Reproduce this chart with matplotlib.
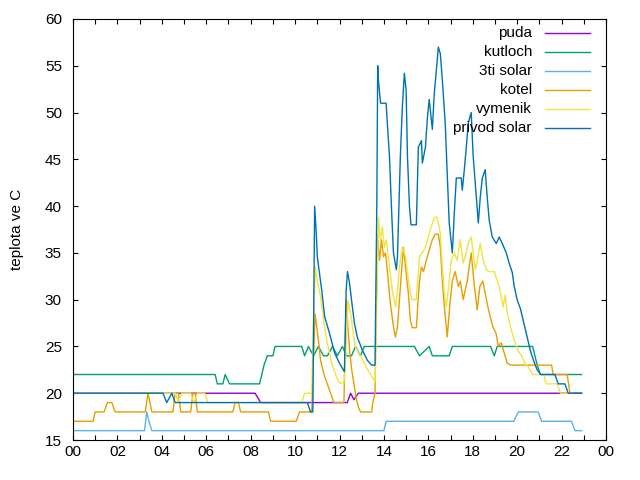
import numpy as np
import matplotlib
matplotlib.use('Agg')
import matplotlib.pyplot as plt

plt.rcParams['font.family'] = ['Liberation Sans', 'DejaVu Sans']
plt.rcParams['font.size'] = 11

# hours of day / temperature (deg C)
puda_t = [0, 8.2, 8.45, 12.35, 12.5, 12.65, 12.85, 22.9]
puda_v = [20, 20, 19, 19, 20, 19.3, 20, 20]

kutloch_t = [0, 6.4, 6.5, 6.75, 6.85, 7.05, 8.4, 8.5, 8.6, 8.75, 9.0, 9.1,
             10.3, 10.43, 10.6, 10.83, 11.05, 11.28, 11.46, 11.69, 11.9, 12.13,
             12.31, 12.54, 12.72, 12.94, 13.12, 15.37, 15.6, 16.04, 16.18,
             16.94, 17.08, 18.8, 18.97, 19.1, 20.7, 20.8, 20.9, 21.05, 22.9]
kutloch_v = [22, 22, 21, 21, 22, 21, 21, 22, 23, 24, 24, 25,
             25, 24, 25, 24, 25, 24, 24, 25, 24, 25,
             24, 24, 25, 24, 25, 25, 24, 25, 24,
             24, 25, 25, 24, 25, 25, 24, 23, 22, 22]

solar3_t = [0, 3.22, 3.32, 3.42, 3.55, 14.0, 14.1, 19.85, 20.05, 20.95,
            21.1, 22.45, 22.6, 22.9]
solar3_v = [16, 16, 18, 17, 16, 16, 17, 17, 18, 18,
            17, 17, 16, 16]

kotel_t = [0, 0.9, 1.0, 1.4, 1.55, 1.75, 1.9, 3.25, 3.38, 3.55,
           4.5, 4.6, 4.75, 4.85, 5.3, 5.4, 5.5, 5.6, 7.2, 7.3, 7.45, 7.55,
           8.8, 8.9, 10.05, 10.2, 10.75, 10.8, 10.9, 10.98, 11.08, 11.15,
           11.3, 11.45, 11.6, 11.75, 12.2, 12.3, 12.38, 12.46, 12.55, 12.65,
           12.75, 12.85, 12.95, 13.45, 13.5, 13.6, 13.7,
           13.8, 13.89, 13.98, 14.07, 14.16, 14.29, 14.43, 14.52, 14.61, 14.7,
           14.79, 14.88, 14.97, 15.1, 15.19, 15.28, 15.46, 15.6, 15.69, 15.78,
           15.91, 16.04, 16.18, 16.31, 16.45, 16.54, 16.63, 16.72, 16.81,
           16.85, 16.99, 17.08, 17.21, 17.35, 17.44, 17.57, 17.75, 17.93,
           18.05, 18.2, 18.32, 18.45, 18.56, 18.7, 18.83, 18.92, 19.05, 19.15,
           19.28, 19.42, 19.55, 19.73, 21.55, 21.62, 22.25, 22.38, 22.5]
kotel_v = [17, 17, 18, 18, 19, 19, 18, 18, 20, 18,
           18, 20, 20, 18, 18, 20, 20, 18, 18, 19, 19, 18,
           18, 17, 17, 18, 18, 22, 28.5, 27, 25, 23.5,
           22, 21, 20, 19, 19, 30, 27, 24.5, 22.5, 21,
           19.5, 18.5, 18, 18, 19, 20, 37,
           34.2, 36.4, 34.6, 35, 32.9, 29.6, 27.1, 26, 27.1, 30,
           32.9, 35.6, 33.5, 30.7, 27.8, 27, 27, 32, 33.5, 33,
           34.2, 35.3, 36.4, 37, 37, 35.6, 32, 29.2, 27.1,
           26, 30, 32, 33, 31.4, 32, 30, 32, 35,
           32, 28.9, 31.4, 32, 30.7, 29, 27.8, 27, 26.4, 25,
           25.4, 24.3, 23.2, 23, 23, 22, 22, 20, 20]

vymenik_t = [0, 4.6, 4.75, 4.9, 5.3, 5.45, 5.6, 5.93, 6.07, 10.3, 10.43,
             10.75, 10.85, 10.92, 11.0, 11.15, 11.3, 11.45, 11.65, 11.85, 12.0,
             12.2, 12.28, 12.38, 12.52, 12.7, 12.95, 13.2, 13.45, 13.6, 13.68,
             13.75, 13.84, 13.93, 14.02, 14.11, 14.25, 14.38, 14.52, 14.61, 14.7,
             14.83, 14.97, 15.06, 15.19, 15.28, 15.46, 15.6, 15.73, 15.87, 16.0,
             16.13, 16.27, 16.4, 16.54, 16.63, 16.72, 16.81, 16.94, 17.03, 17.17,
             17.3, 17.44, 17.57, 17.71, 17.8, 17.93, 18.02, 18.11, 18.2, 18.34,
             18.47, 18.61, 18.74, 18.97, 19.19, 19.37, 19.46, 19.55, 19.73,
             19.91, 20.05, 20.2, 20.35, 20.5, 20.7, 21.2, 21.3, 21.8, 21.95,
             22.55]
vymenik_v = [20, 20, 19, 20, 20, 19, 20, 20, 19, 19, 20,
             20, 30, 33.5, 32, 30.3, 27.5, 25.4, 23.2, 21.8, 21.1,
             21.1, 24, 29.9, 28.2, 25, 24, 22.8, 21.8, 21.2, 30,
             38.8, 36.4, 37.8, 35.6, 36.4, 33.5, 31, 29.2, 31, 33.5,
             35.6, 34.6, 32.9, 30.7, 30, 30, 34.6, 35, 35.6, 36.7,
             37.8, 38.8, 38.8, 37.1, 33.5, 30.7, 29.2, 32, 34.2, 35,
             34.2, 36.4, 33.9, 35, 36, 36.7, 35, 33.2, 34.2, 36,
             34.2, 33.2, 33, 33, 31.4, 29.2, 30.5, 28.6, 26.8,
             25.4, 24.5, 24, 23.2, 22.8, 22, 22, 21, 21, 20,
             20]

privod_t = [0, 4.05, 4.22, 4.45, 4.6, 10.55, 10.7, 10.8, 10.88, 10.95, 11.0,
            11.2, 11.33, 11.55, 11.78, 12.0, 12.22, 12.3, 12.36, 12.45, 12.54,
            12.67, 12.8, 13.03, 13.26, 13.45, 13.6, 13.68,
            13.72, 13.76, 13.85, 14.1, 14.16, 14.25, 14.35, 14.43, 14.56, 14.61,
            14.74, 14.83, 14.92, 15.0, 15.06, 15.15, 15.22, 15.46, 15.55, 15.69,
            15.73, 15.87, 15.96, 16.04, 16.18, 16.27, 16.38, 16.45, 16.54, 16.63,
            16.76, 16.85, 16.94, 17.08, 17.17, 17.26, 17.48, 17.53, 17.62, 17.71,
            17.8, 17.93, 18.02, 18.16, 18.25, 18.34, 18.43, 18.56, 18.65, 18.74,
            18.88, 19.06, 19.19, 19.33, 19.51, 19.64, 19.78, 19.87, 20.0, 20.15,
            20.3, 20.45, 20.6, 20.75, 20.9, 21.05, 21.7, 21.85, 22.15, 22.3,
            22.9]
privod_v = [20, 20, 19, 20, 19, 19, 18, 18, 40, 37.3, 34.6,
            31, 28.2, 26.4, 24.3, 23.2, 22.3, 31, 33, 31.8, 30,
            27.5, 26, 24.6, 23.5, 23, 23, 40,
            55, 53.2, 51, 51, 48.6, 45.3, 39.3, 35, 33.2, 34.6,
            45.3, 50.6, 54.2, 52.4, 45.3, 40, 38, 38, 46.3, 47,
            44.6, 46.3, 49.5, 51.4, 48.2, 52.1, 55, 57, 56.3, 53.5,
            48.9, 43.5, 38.2, 35, 39.3, 43, 43, 41.7, 43.9, 46.3,
            48.9, 50, 45.3, 41, 38.2, 41, 43, 43.9, 41, 38.5,
            36.7, 36, 36.7, 36, 35, 33.9, 32.9, 31.4, 30, 29,
            27.5, 26, 24.5, 23.4, 22.5, 22, 22, 21, 21, 20,
            20]

names = ['puda', 'kutloch', '3ti solar', 'kotel', 'vymenik', 'privod solar']
colors = ['#9400D3', '#009E73', '#56B4E9', '#E69F00', '#F0E442', '#0072B2']
series = [(puda_t, puda_v), (kutloch_t, kutloch_v), (solar3_t, solar3_v),
          (kotel_t, kotel_v), (vymenik_t, vymenik_v), (privod_t, privod_v)]

fig = plt.figure(figsize=(6.4, 4.8), dpi=100)
ax = fig.add_axes([73/640, 40/480, 533/640, 421/480])

for (t, v), c in zip(series, colors):
    ax.plot(t, v, color=c, lw=1.0)

ax.set_xlim(0, 24)
ax.set_ylim(15, 60)
ax.set_xticks(np.arange(0, 25, 2))
ax.set_xticklabels(['%02d' % (h % 24) for h in range(0, 25, 2)])
ax.set_xticks(np.arange(1, 24, 2), minor=True)
ax.set_yticks(np.arange(15, 61, 5))
ax.tick_params(which='both', direction='in', top=True, right=True,
               length=3.5, width=0.8, color='black')
ax.tick_params(axis='x', pad=3.5)
ax.tick_params(axis='y', pad=8)
ax.set_ylabel('teplota ve C', labelpad=15)

# legend like gnuplot: right aligned text, sample line to the right
ys = [0.967, 0.922, 0.876, 0.831, 0.787, 0.742]
for name, c, y in zip(names, colors, ys):
    ax.text(0.861, y, name, transform=ax.transAxes, ha='right', va='center')
    ax.plot([0.886, 0.970], [y, y], transform=ax.transAxes, color=c, lw=1.0)

fig.savefig('out.png', dpi=100)
